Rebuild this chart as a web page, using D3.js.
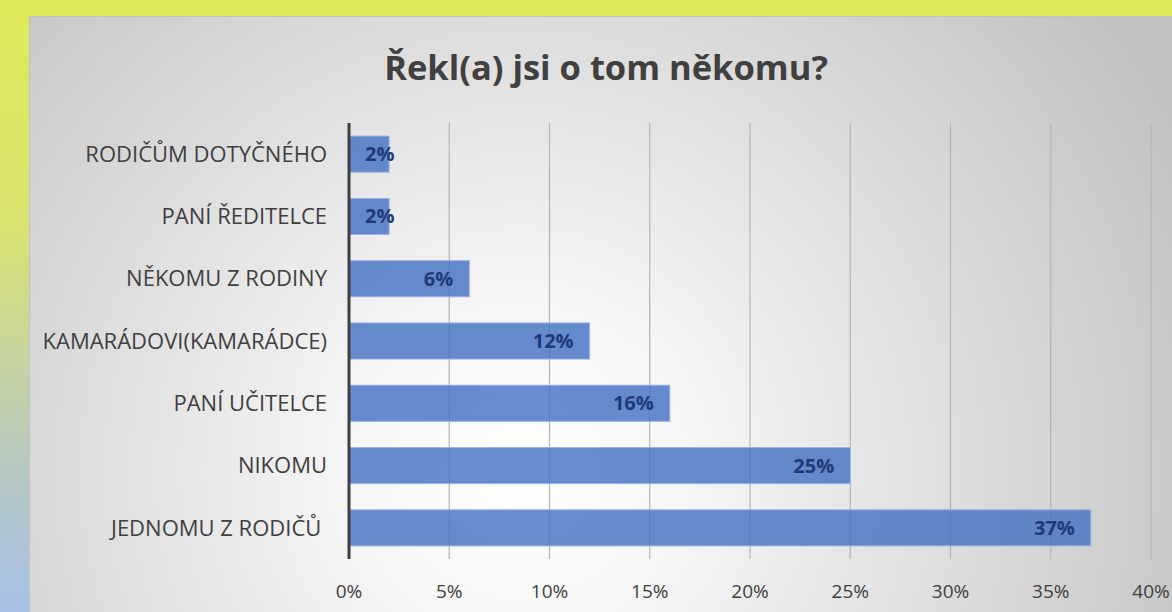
<!DOCTYPE html>
<html><head><meta charset="utf-8">
<script src="https://cdn.jsdelivr.net/npm/d3@7"></script>
<style>html,body{margin:0;padding:0;overflow:hidden;background:#e0e85a}</style>
</head><body>
<svg id="c" width="1172" height="612"></svg>
<script>
const categories = ["RODIČŮM DOTYČNÉHO","PANÍ ŘEDITELCE","NĚKOMU Z RODINY","KAMARÁDOVI(KAMARÁDCE)","PANÍ UČITELCE","NIKOMU","JEDNOMU Z RODIČŮ "];
const values = [2,2,6,12,16,25,37];
const valueLabels = ["2%","2%","6%","12%","16%","25%","37%"];
const ticks = [0,5,10,15,20,25,30,35,40];
const tickLabels = ["0%","5%","10%","15%","20%","25%","30%","35%","40%"];
const title = "Řekl(a) jsi o tom někomu?";

const svg = d3.select("#c");
const W = 1172, H = 612;
const font = "'Open Sans', 'Noto Sans', sans-serif";
const defs = svg.append("defs");
const lg = defs.append("linearGradient").attr("id","side").attr("x1",0).attr("y1",0).attr("x2",0).attr("y2",1);
[["0%","#e0e85a"],["35%","#dae270"],["60%","#c4d2a4"],["80%","#b2c6c8"],["100%","#a8c0e6"]].forEach(s=>lg.append("stop").attr("offset",s[0]).attr("stop-color",s[1]));
const rg = defs.append("radialGradient").attr("id","bg").attr("gradientUnits","userSpaceOnUse")
  .attr("cx",520).attr("cy",470).attr("r",760);
[["0%","#ffffff"],["22%","#f6f6f6"],["100%","#c0c0c0"]].forEach(s=>rg.append("stop").attr("offset",s[0]).attr("stop-color",s[1]));

svg.append("rect").attr("x",0).attr("y",0).attr("width",W).attr("height",H).attr("fill","#e0e85a");
svg.append("rect").attr("x",0).attr("y",16).attr("width",30).attr("height",H-16).attr("fill","url(#side)");
svg.append("rect").attr("x",29).attr("y",16).attr("width",W-29).attr("height",H-16).attr("fill","#c0c0c0");
svg.append("rect").attr("x",30).attr("y",17).attr("width",W-30).attr("height",H-17).attr("fill","url(#bg)");

const x = d3.scaleLinear().domain([0,40]).range([349,1151]);
const y = d3.scaleBand().domain(categories).range([123,559]).paddingInner(0.42).paddingOuter(0.21);

svg.append("text").attr("x",606).attr("y",80).attr("text-anchor","middle")
  .attr("font-family",font).attr("font-weight","bold").attr("font-size",34.5).attr("fill","#404040").text(title);

// gridlines
svg.append("g").selectAll("line").data(ticks.slice(1)).join("line")
  .attr("x1",d=>x(d)).attr("x2",d=>x(d)).attr("y1",123).attr("y2",559)
  .attr("stroke","#b4b4b4").attr("stroke-width",1.2);

// bars
svg.append("g").selectAll("rect").data(values).join("rect")
  .attr("x",x(0)).attr("y",(d,i)=>y(categories[i])).attr("width",d=>x(d)-x(0)).attr("height",y.bandwidth())
  .attr("fill","#4472c4").attr("fill-opacity",0.82).attr("stroke","#9db4e0").attr("stroke-width",1);

// axis line
svg.append("line").attr("x1",349).attr("x2",349).attr("y1",123).attr("y2",559).attr("stroke","#404040").attr("stroke-width",3);

// value labels
const vl = svg.append("g").selectAll("text").data(values).join("text")
  .attr("y",(d,i)=>y(categories[i])+y.bandwidth()/2).attr("dy","0.35em")
  .attr("text-anchor","end").attr("font-family",font).attr("font-weight","bold").attr("font-size",20)
  .attr("fill","#1f3a78").text((d,i)=>valueLabels[i]);
vl.each(function(d){const w=this.getComputedTextLength(); d3.select(this).attr("x",Math.max(x(d)-16, x(0)+16+w));});

// category labels
svg.append("g").selectAll("text").data(categories).join("text")
  .attr("x",327).attr("y",d=>y(d)+y.bandwidth()/2).attr("dy","0.35em").attr("text-anchor","end")
  .attr("font-family",font).attr("font-size",22).attr("fill","#404040").style("white-space","pre").text(d=>d);

// tick labels
svg.append("g").selectAll("text").data(ticks).join("text")
  .attr("x",d=>x(d)).attr("y",598).attr("text-anchor","middle")
  .attr("font-family",font).attr("font-size",19).attr("fill","#404040").text((d,i)=>tickLabels[i]);
</script>
</body></html>
